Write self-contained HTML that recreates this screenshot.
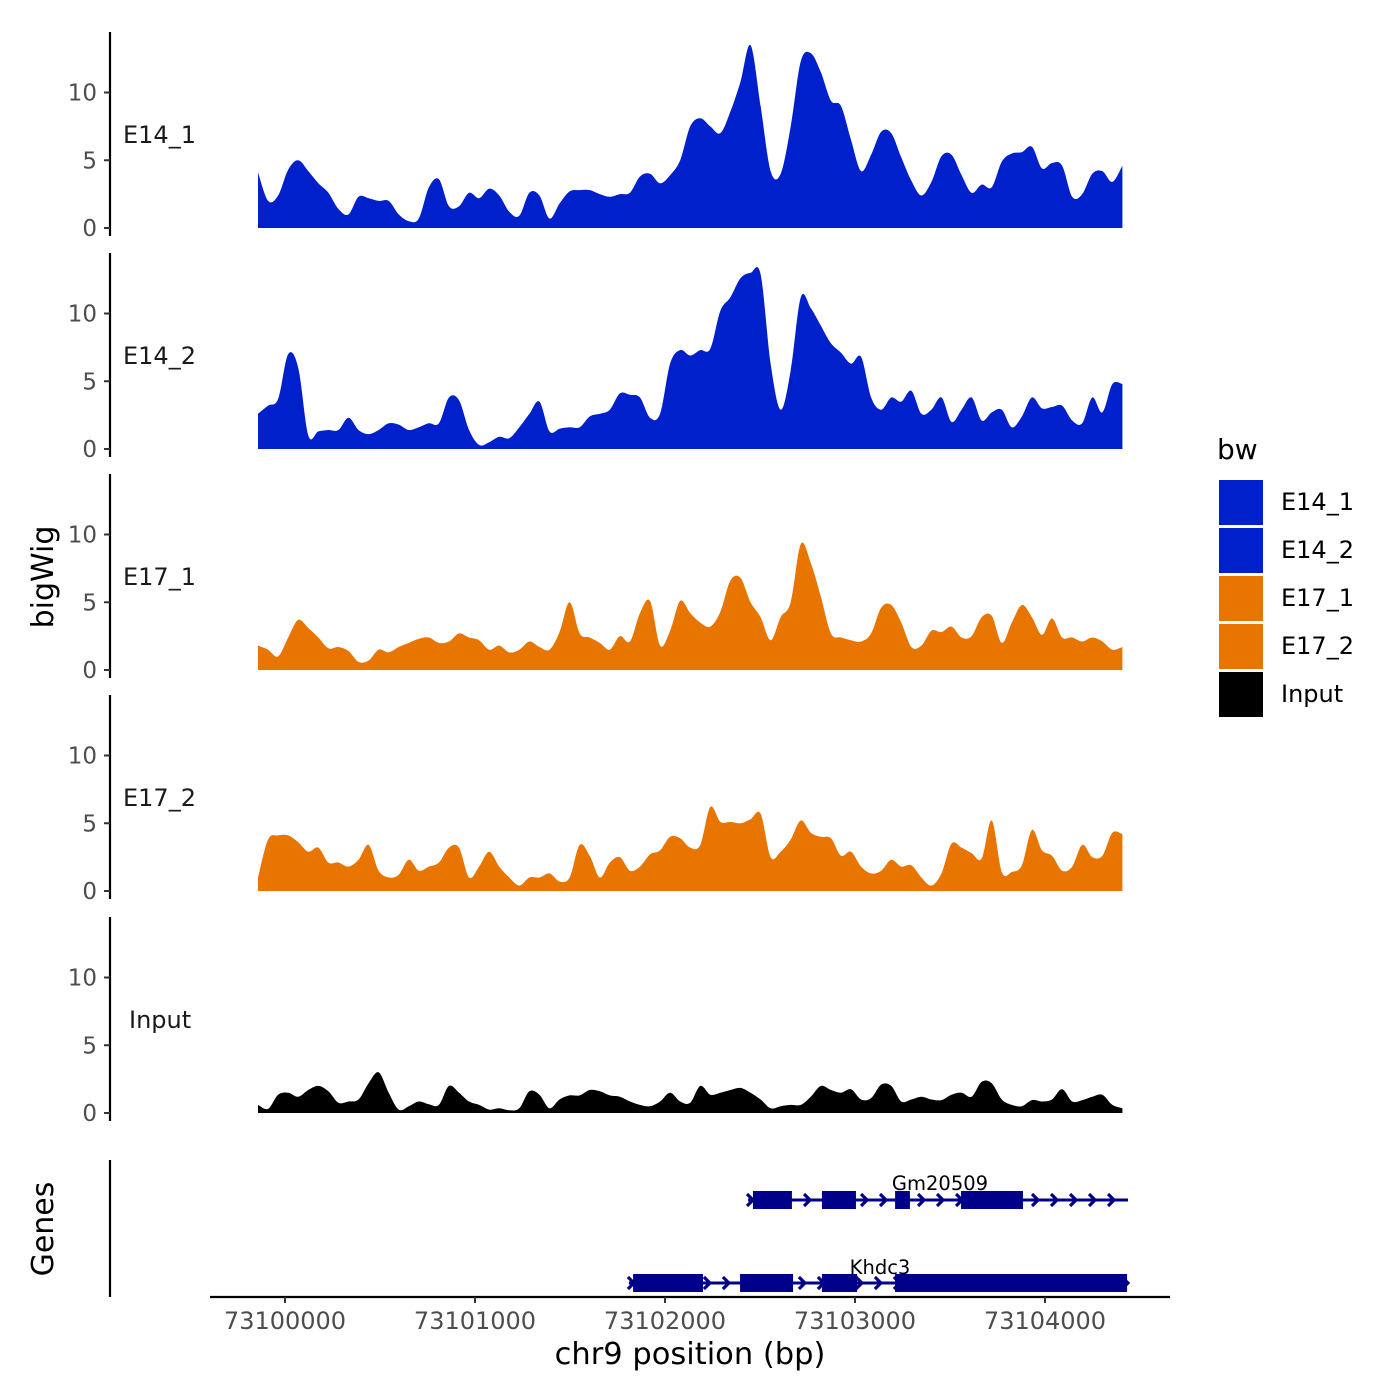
<!DOCTYPE html>
<html><head><meta charset="utf-8"><style>
body{margin:0;background:#fff}
svg{display:block;font-family:"DejaVu Sans","Liberation Sans",sans-serif}
</style></head><body>
<svg id="chart" width="1400" height="1400" viewBox="0 0 1400 1400"></svg>
<script>
const trackNames = ["E14_1","E14_2","E17_1","E17_2","Input"];
const trackColors = ["#0020CC","#0020CC","#E87500","#E87500","#000000"];
const binStart = 73099858;
const binStep = 52.9;
const e14_1 = [4.1,2.0,2.4,4.3,5.0,4.2,3.3,2.6,1.4,1.0,2.3,2.2,2.0,2.0,1.0,0.5,0.7,3.0,3.6,1.6,1.6,2.6,2.2,2.9,2.4,1.2,0.9,2.6,2.4,0.7,1.8,2.7,2.8,2.8,2.5,2.3,2.5,2.6,3.8,4.0,3.3,3.9,5.0,7.5,8.1,7.5,7.0,8.6,10.8,13.5,9.0,4.2,4.0,7.5,12.3,12.9,11.5,9.4,9.0,6.5,4.2,5.4,7.1,7.0,5.2,3.5,2.4,3.4,5.3,5.4,3.9,2.6,3.2,3.0,4.9,5.5,5.6,6.0,4.4,4.8,4.6,2.3,2.5,4.0,4.2,3.4,4.6];
const e14_2 = [2.6,3.2,3.7,7.0,6.0,1.0,1.3,1.4,1.4,2.3,1.4,1.1,1.4,1.9,1.8,1.4,1.6,1.9,1.9,3.8,3.6,1.4,0.3,0.5,0.9,0.8,1.6,2.6,3.5,1.3,1.5,1.6,1.6,2.4,2.6,2.9,4.1,4.0,3.8,2.3,2.6,6.3,7.3,6.9,7.3,7.4,10.2,11.2,12.6,13.0,12.9,6.3,2.9,5.8,11.2,10.4,9.1,7.8,7.1,6.3,6.8,3.8,2.9,3.8,3.5,4.3,2.6,2.9,3.8,2.0,2.9,3.8,2.1,2.7,2.9,1.6,2.4,3.8,3.0,3.1,3.2,2.1,1.9,3.8,2.7,4.8,4.8];
const e17_1 = [1.8,1.5,1.0,2.4,3.7,3.1,2.4,1.6,1.7,1.4,0.6,0.7,1.5,1.3,1.7,2.0,2.3,2.4,2.0,2.1,2.7,2.4,2.2,1.5,1.8,1.3,1.5,2.1,1.7,1.5,2.8,5.0,2.7,2.4,2.0,1.5,2.5,2.1,4.2,5.1,1.8,2.9,5.1,4.2,3.5,3.2,4.3,6.6,6.8,5.0,3.9,2.2,3.9,5.0,9.3,7.9,5.4,2.7,2.4,2.2,2.1,2.7,4.6,4.8,3.5,1.7,1.8,2.9,2.8,3.2,2.4,2.5,3.9,4.0,2.0,3.5,4.8,3.9,2.6,3.8,2.4,2.4,2.1,2.4,2.1,1.5,1.7];
const e17_2 = [1.0,3.8,4.1,4.1,3.6,2.9,3.2,2.1,2.1,1.8,2.3,3.4,1.5,1.0,1.2,2.3,1.5,1.8,2.1,3.2,3.2,1.0,1.8,2.9,1.8,1.0,0.4,1.0,1.0,1.3,0.7,1.0,3.4,2.6,1.0,2.1,2.5,1.5,1.8,2.7,3.0,4.0,3.9,3.2,3.4,6.2,5.1,5.1,5.0,5.3,5.7,2.5,2.9,3.8,5.2,4.3,4.0,3.9,2.6,2.9,1.8,1.3,1.5,2.3,1.8,1.9,1.0,0.4,1.3,3.5,3.2,2.8,2.4,5.2,1.4,1.4,1.9,4.5,3.0,2.6,1.5,1.8,3.4,2.5,2.6,4.3,4.2];
const input = [0.6,0.3,1.35,1.5,1.2,1.7,2.0,1.6,0.75,0.85,1.0,2.2,3.0,1.5,0.25,0.5,0.85,0.65,0.6,2.0,1.5,0.85,0.6,0.25,0.35,0.2,0.35,1.6,1.35,0.35,1.0,1.3,1.3,1.7,1.6,1.3,1.2,0.85,0.6,0.5,0.85,1.5,0.85,0.75,2.0,1.35,1.5,1.7,1.85,1.5,1.0,0.35,0.5,0.6,0.6,1.2,2.0,1.7,1.5,1.75,1.0,1.1,2.1,2.0,0.85,1.0,1.2,1.0,0.95,1.35,1.5,1.2,2.3,2.2,1.0,0.6,0.5,0.95,0.85,1.0,1.75,0.85,0.95,1.2,1.35,0.6,0.35];
const trackValues = [e14_1,e14_2,e17_1,e17_2,input];
const yTicks = [0,5,10];
const xTicks = [73100000,73101000,73102000,73103000,73104000];
const geneNames = ["Gm20509","Khdc3"];
const geneSpans = [[73102437,73104437],[73101810,73104437]];
const gm20509Exons = [[73102463,73102668],[73102826,73103005],[73103211,73103289],[73103558,73103884]];
const khdc3Exons = [[73101832,73102200],[73102395,73102674],[73102826,73103011],[73103211,73104432]];
const legendKeys = ["E14_1","E14_2","E17_1","E17_2","Input"];
const legendColors = ["#0020CC","#0020CC","#E87500","#E87500","#000000"];

const NS="http://www.w3.org/2000/svg";
const svg=document.getElementById('chart');
function mk(tag,attrs,parent,text){const e=document.createElementNS(NS,tag);for(const k in attrs)e.setAttribute(k,attrs[k]);if(text!==undefined)e.textContent=text;(parent||svg).appendChild(e);return e;}
const xScale=bp=>285+(bp-73100000)*0.19;
const baselines=[228,449,670,891,1113];
const pxPerUnit=13.55;
const yScale=(t,v)=>baselines[t]-v*pxPerUnit;

trackNames.forEach((name,t)=>{
  const g=mk('g',{});
  
  
  const b=baselines[t];
  const ax=mk('line',{x1:110,x2:110,y1:b-196,y2:b+8,stroke:'#000','stroke-width':2.2},g);
  
  
  yTicks.forEach(v=>{
    const y=yScale(t,v);
    const tk=mk('line',{x1:104,x2:110,y1:y,y2:y,stroke:'#333','stroke-width':2},g);
    
    
    const tl=mk('text',{x:97,y:y+8,'text-anchor':'end','font-size':23,fill:'#4d4d4d'},g,String(v));
    
    
  });
  const lab=mk('text',{x:name==='Input'?129:123,y:b-85,'font-size':24,fill:'#1a1a1a'},g,name);
  
  
  const vals=trackValues[t];
  const pts=vals.map((v,i)=>[xScale(binStart+i*binStep),yScale(t,v)]);
  let d='M'+pts[0][0].toFixed(1)+','+b+' L'+pts[0][0].toFixed(1)+','+pts[0][1].toFixed(1);
  for(let i=0;i<pts.length-1;i++){
    const p0=pts[Math.max(0,i-1)],p1=pts[i],p2=pts[i+1],p3=pts[Math.min(pts.length-1,i+2)];
    const c1x=p1[0]+(p2[0]-p0[0])/6,c1y=Math.min(b,p1[1]+(p2[1]-p0[1])/6);
    const c2x=p2[0]-(p3[0]-p1[0])/6,c2y=Math.min(b,p2[1]-(p3[1]-p1[1])/6);
    d+=` C${c1x.toFixed(1)},${c1y.toFixed(1)} ${c2x.toFixed(1)},${c2y.toFixed(1)} ${p2[0].toFixed(1)},${p2[1].toFixed(1)}`;
  }
  d+=' L'+pts[pts.length-1][0].toFixed(1)+','+b+' Z';
  const p=mk('path',{d:d,fill:trackColors[t],stroke:'none'},g);
  
  
});

// genes panel
const gax=mk('line',{x1:110,x2:110,y1:1160,y2:1297,stroke:'#000','stroke-width':2.2});


const geneY=[1200,1283];
const exonSets=[gm20509Exons,khdc3Exons];
const labelX=[940,880];
const labelY=[1190,1274];
geneNames.forEach((gn,gi)=>{
  const g=mk('g',{});
  
  
  const y=geneY[gi];
  const x0=xScale(geneSpans[gi][0]),x1=xScale(geneSpans[gi][1]);
  const ln=mk('line',{x1:x0,x2:x1,y1:y,y2:y,stroke:'#00008B','stroke-width':3},g);
  
  
  for(let x=x0+4;x<=x1;x+=19){
    const c=mk('path',{d:`M${x-5},${y-6} L${x+1},${y} L${x-5},${y+6}`,fill:'none',stroke:'#00008B','stroke-width':3.2},g);
    
    
  }
  exonSets[gi].forEach(e=>{
    const r=mk('rect',{x:xScale(e[0]),y:y-9,width:xScale(e[1])-xScale(e[0]),height:18,fill:'#00008B'},g);
    
    
  });
  const tx=mk('text',{x:labelX[gi],y:labelY[gi],'text-anchor':'middle','font-size':19.5,fill:'#000'},g,gn);
  
  
});

// x axis
const xa=mk('line',{x1:210,x2:1170,y1:1297,y2:1297,stroke:'#000','stroke-width':2.2});


xTicks.forEach(v=>{
  const x=xScale(v);
  const t=mk('line',{x1:x,x2:x,y1:1297,y2:1303,stroke:'#333','stroke-width':2});
  
  
  const l=mk('text',{x:x,y:1329,'text-anchor':'middle','font-size':24,fill:'#4d4d4d'},svg,String(v));
  
  
});
const xt=mk('text',{x:690,y:1364,'text-anchor':'middle','font-size':30.5,fill:'#000'},svg,'chr9 position (bp)');


const yt=mk('text',{x:0,y:0,transform:'translate(53,577) rotate(-90)','text-anchor':'middle','font-size':30,fill:'#000'},svg,'bigWig');


const gt=mk('text',{x:0,y:0,transform:'translate(53,1229) rotate(-90)','text-anchor':'middle','font-size':30,fill:'#000'},svg,'Genes');



// legend
const lg=mk('g',{});


const lt=mk('text',{x:1217,y:459,'font-size':28,fill:'#000'},lg,'bw');


legendKeys.forEach((k,i)=>{
  const y=480+i*48;
  const r=mk('rect',{x:1219,y:y,width:44,height:45,fill:legendColors[i]},lg);
  
  
  const t=mk('text',{x:1281,y:y+30,'font-size':24,fill:'#000'},lg,k);
  
  
});
</script>
</body></html>
